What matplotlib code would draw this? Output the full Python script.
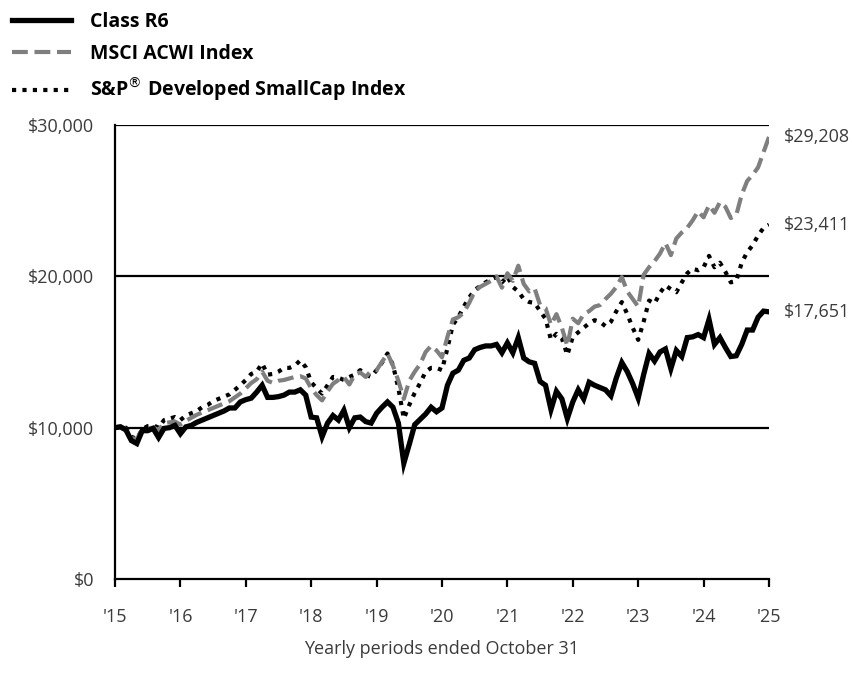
import matplotlib.pyplot as plt
import matplotlib.ticker as mticker
import numpy as np

plt.rcParams['font.family'] = ['Open Sans', 'DejaVu Sans']

# monthly values, Oct 2015 .. Oct 2025
class_r6 = [10000, 10050, 9850, 9150, 8950, 9800, 9800, 9950, 9350, 9950,
            10000, 10150, 9600, 10050, 10150, 10350, 10500, 10650, 10800, 10950,
            11100, 11300, 11300, 11700, 11850, 11950, 12350, 12800, 12000, 12000,
            12050, 12150, 12350, 12350, 12500, 12150, 10700, 10650, 9400, 10300,
            10800, 10500, 11150, 10000, 10650, 10700, 10400, 10300, 10950, 11350,
            11700, 11350, 10300, 7650, 8900, 10200, 10550, 10900, 11350, 11050,
            11300, 12800, 13600, 13800, 14450, 14600, 15150, 15300, 15400, 15400,
            15500, 14950, 15600, 14950, 15950, 14600, 14350, 14250, 13050, 12800,
            11200, 12400, 11900, 10600, 11700, 12500, 11900, 13000, 12800, 12650,
            12500, 12100, 13300, 14300, 13700, 12900, 11950, 13500, 14900, 14400,
            15000, 15200, 13900, 15100, 14700, 15950, 16000, 16150, 15950, 17150,
            15500, 15950, 15300, 14700, 14750, 15500, 16450, 16450, 17300, 17700,
            17651]

msci_acwi = [10000, 10100, 9900, 9300, 9250, 9850, 9950, 10000, 9850, 10300,
             10350, 10400, 10200, 10450, 10650, 10850, 11000, 11150, 11300, 11450,
             11600, 11750, 12000, 12250, 12600, 12950, 13200, 13700, 13100, 12950,
             13100, 13150, 13250, 13350, 13400, 13250, 12600, 12150, 11800, 12400,
             12900, 13150, 13350, 12850, 13500, 13650, 13350, 13750, 13800, 14350,
             14900, 14100, 13100, 11900, 13100, 13700, 14200, 15000, 15400, 15100,
             14650, 16000, 17150, 17300, 17600, 18250, 19000, 19300, 19500, 19700,
             20000, 19250, 20200, 19700, 20700, 19500, 19000, 19200, 18100, 17900,
             16800, 17500, 16600, 15400, 17200, 16900, 17500, 17700, 18000, 18100,
             18500, 18850, 19300, 19950, 19000, 18500, 18000, 20100, 20600, 21000,
             21500, 22200, 21400, 22500, 22900, 23200, 23700, 24300, 23900, 24700,
             24200, 24900, 24600, 23850, 24050, 25400, 26300, 26700, 27200, 28200,
             29208]

sp_smallcap = [10000, 10050, 10000, 9400, 9250, 9900, 10100, 10150, 10000, 10500,
               10600, 10700, 10500, 10800, 10950, 11100, 11350, 11500, 11750, 11900,
               12050, 12200, 12500, 12800, 13150, 13550, 13700, 14250, 13500, 13550,
               13700, 13950, 13950, 14100, 14450, 14000, 13000, 12600, 12250, 12800,
               13350, 13300, 13150, 13350, 13500, 13800, 13500, 13350, 13800, 14300,
               14900, 14150, 12600, 10600, 11500, 12300, 12950, 13700, 13950, 13950,
               13800, 15250, 16800, 17300, 18000, 18600, 19100, 19350, 19600, 19800,
               19950, 19600, 20000, 19300, 19000, 18500, 18300, 18250, 17700, 17200,
               15800, 16200, 15900, 14800, 16000, 16300, 16600, 16900, 17100, 17000,
               16700, 17000, 17700, 18300, 17500, 16600, 15800, 17000, 18400, 18200,
               18900, 19400, 19150, 18950, 19600, 20200, 20500, 20400, 20600, 21350,
               20600, 20900, 20300, 19600, 19700, 20900, 21600, 22050, 22700, 23200,
               23411]

year_ticks = list(range(2015, 2026))
year_labels = ["'15", "'16", "'17", "'18", "'19", "'20", "'21", "'22", "'23", "'24", "'25"]
end_labels = ["$17,651", "$29,208", "$23,411"]

months = 2015 + np.arange(len(class_r6)) / 12.0
text_col = "#3b3b3b"

fig = plt.figure(figsize=(8.53, 6.86), dpi=100)
ax = fig.add_axes([0.1348, 0.156, 0.7667, 0.6618])

for v in [10000, 20000, 30000]:
    ax.axhline(v, color="black", lw=1.6, zorder=1)

l3, = ax.plot(months, sp_smallcap, color="black", lw=3.0, linestyle=(0, (1, 1.5)),
              label="S&P$^{®}$ Developed SmallCap Index", zorder=3)
l2, = ax.plot(months, msci_acwi, color="#7f7f7f", lw=3.0, linestyle=(0, (3.8, 1.6)),
              label="MSCI ACWI Index", zorder=4)
l1, = ax.plot(months, class_r6, color="black", lw=3.8, solid_joinstyle="miter",
              label="Class R6", zorder=5)

for series, lab in zip([class_r6, msci_acwi, sp_smallcap], end_labels):
    ax.annotate(lab, xy=(months[-1], series[-1]), xytext=(11, 0),
                textcoords="offset points", va="center", ha="left",
                fontsize=13, color=text_col, annotation_clip=False)

ax.set_xlim(2015, 2025)
ax.set_ylim(0, 30000)
ax.set_xticks(year_ticks)
ax.set_xticklabels(year_labels)
ax.set_yticks([0, 10000, 20000, 30000])
ax.yaxis.set_major_formatter(mticker.FuncFormatter(lambda v, p: "${:,.0f}".format(v)))

for s in ["top", "right"]:
    ax.spines[s].set_visible(False)
ax.spines["left"].set_linewidth(1.6)
ax.spines["bottom"].set_linewidth(1.6)
ax.tick_params(axis="x", direction="out", length=6, width=1.6, pad=15,
               labelsize=13, labelcolor=text_col)
ax.tick_params(axis="y", length=0, pad=15, labelsize=13, labelcolor=text_col)

ax.set_xlabel("Yearly periods ended October 31", fontsize=13, color=text_col, labelpad=10)

leg = fig.legend(handles=[l1, l2, l3], loc="upper left", bbox_to_anchor=(-0.006, 1.008),
                 frameon=False, handlelength=3.0, handletextpad=1.0, labelspacing=0.62,
                 prop={"weight": "bold", "size": 14})

fig.savefig("out.png", dpi=100)
